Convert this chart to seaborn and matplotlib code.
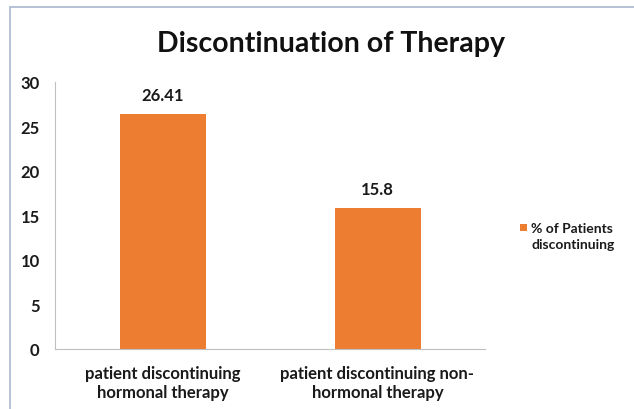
import matplotlib
matplotlib.use("Agg")
import matplotlib.pyplot as plt
from matplotlib.patches import Patch, Rectangle
from matplotlib.legend_handler import HandlerPatch
import seaborn as sns
import pandas as pd

categories = ["patient discontinuing\nhormonal therapy",
              "patient discontinuing non-\nhormonal therapy"]
values = [26.41, 15.8]
value_labels = ["26.41", "15.8"]
series_name = "% of Patients\ndiscontinuing"
title = "Discontinuation of Therapy"
yticks = [0, 5, 10, 15, 20, 25, 30]

sns.set_style("white")
plt.rcParams['font.family'] = ['Lato', 'DejaVu Sans']

BAR = "#ED7D31"
TXT = "#1a1a1a"
AX = "#BFBFBF"

df = pd.DataFrame({"cat": categories, "val": values})

fig = plt.figure(figsize=(6.34, 4.10), dpi=100)
fig.patch.set_facecolor("white")
ax = fig.add_axes([55/634, 1-350/410, (485-55)/634, (350-83)/410])

sns.barplot(data=df, x="cat", y="val", color=BAR, width=0.4, ax=ax,
            saturation=1, edgecolor="none")

ax.set_xlim(-0.5, 1.5)
ax.set_ylim(0, 30)
ax.set_yticks(yticks)
ax.set_yticklabels([str(t) for t in yticks], fontsize=12, fontweight="bold", color=TXT)
ax.set_xlabel("")
ax.set_ylabel("")
for lab in ax.get_xticklabels():
    lab.set_fontsize(12)
    lab.set_fontweight("bold")
    lab.set_color(TXT)
    lab.set_linespacing(1.25)
ax.tick_params(axis="x", which="major", length=0, pad=11.5)
ax.set_xticks([-0.5, 0.5, 1.5], minor=True)
ax.tick_params(axis="x", which="minor", length=5, color=AX, width=0.8)
ax.tick_params(axis="y", length=4, color=AX, width=0.8, pad=7)

for s in ["top", "right"]:
    ax.spines[s].set_visible(False)
for s in ["left", "bottom"]:
    ax.spines[s].set_color(AX)
    ax.spines[s].set_linewidth(0.8)
ax.grid(False)

for i, (v, lbl) in enumerate(zip(values, value_labels)):
    ax.annotate(lbl, (i, v), xytext=(0, 8), textcoords="offset points",
                ha="center", va="bottom", fontsize=12, fontweight="bold", color=TXT)

fig.text(331/634, 1-52/410, title, ha="center", va="baseline",
         fontsize=20.5, fontweight="bold", color="#111111")


def top_square(legend, orig_handle, xdescent, ydescent, width, height, fontsize):
    return Rectangle((-xdescent, -ydescent + 0.62 * fontsize), width, height)


handles = [Patch(facecolor=BAR, edgecolor="none", label=series_name)]
leg = fig.legend(handles=handles, loc="center left",
                 bbox_to_anchor=(513/634, 1-237/410), frameon=False,
                 handlelength=0.5, handleheight=0.5, handletextpad=0.3,
                 borderpad=0, prop={"size": 10, "weight": "bold"},
                 handler_map={Patch: HandlerPatch(patch_func=top_square)})
for t in leg.get_texts():
    t.set_color(TXT)
    t.set_linespacing(1.45)

fig.patches.append(Rectangle((10/634, -0.1), 1.0, 1-8/410+0.1,
                             transform=fig.transFigure, fill=False,
                             edgecolor="#A7B8CC", linewidth=1.2))

fig.savefig("out.png", dpi=100)
